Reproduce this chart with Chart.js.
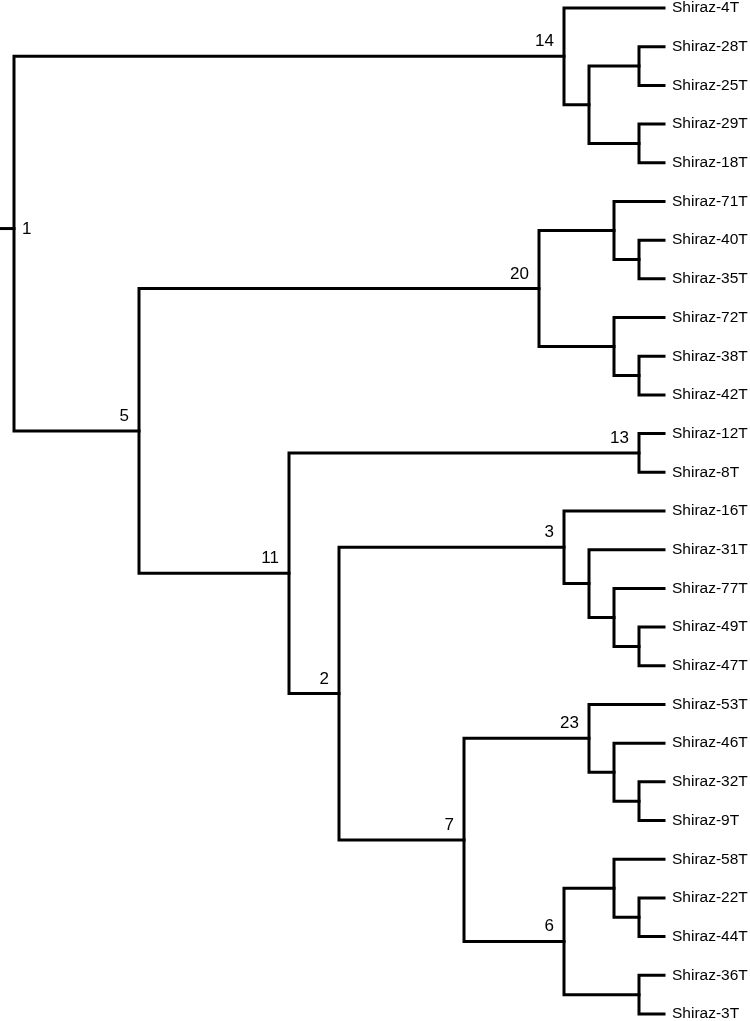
<!DOCTYPE html>
<html>
<head>
<meta charset="utf-8">
<script src="https://cdn.jsdelivr.net/npm/chart.js@4.4.0/dist/chart.umd.min.js"></script>
<style>
  html, body { margin: 0; padding: 0; background: #fff; }
  #wrap { width: 750px; height: 1021px; position: relative; }
</style>
</head>
<body>
<div id="wrap"><canvas id="tree"></canvas></div>
<script>
// leaves, top to bottom
var leafNames = ['Shiraz-4T', 'Shiraz-28T', 'Shiraz-25T', 'Shiraz-29T', 'Shiraz-18T',
  'Shiraz-71T', 'Shiraz-40T', 'Shiraz-35T', 'Shiraz-72T', 'Shiraz-38T', 'Shiraz-42T',
  'Shiraz-12T', 'Shiraz-8T', 'Shiraz-16T', 'Shiraz-31T', 'Shiraz-77T', 'Shiraz-49T',
  'Shiraz-47T', 'Shiraz-53T', 'Shiraz-46T', 'Shiraz-32T', 'Shiraz-9T', 'Shiraz-58T',
  'Shiraz-22T', 'Shiraz-44T', 'Shiraz-36T', 'Shiraz-3T'];
var leafHeight = 26;

// internal nodes
var nodeNames = ['n1', 'n5', 'n14', 'n14a', 'n14b', 'n14c', 'n20', 'n20a', 'n20b', 'n20c', 'n20d',
  'n11', 'n13', 'n2', 'n3', 'n3a', 'n3b', 'n3c', 'n7', 'n23', 'n23a', 'n23b', 'n6', 'n6a', 'n6b', 'n6c'];
var nodeLabels = ['1', '5', '14', '', '', '', '20', '', '', '', '',
  '11', '13', '2', '3', '', '', '', '7', '23', '', '', '6', '', '', ''];
var nodeHeights = [0, 5, 22, 23, 25, 25, 21, 24, 25, 24, 25,
  11, 25, 13, 22, 23, 24, 25, 18, 23, 24, 25, 22, 24, 25, 25];
var nodeChildren = [
  ['n14', 'n5'], ['n20', 'n11'], ['Shiraz-4T', 'n14a'], ['n14b', 'n14c'],
  ['Shiraz-28T', 'Shiraz-25T'], ['Shiraz-29T', 'Shiraz-18T'],
  ['n20a', 'n20c'], ['Shiraz-71T', 'n20b'], ['Shiraz-40T', 'Shiraz-35T'],
  ['Shiraz-72T', 'n20d'], ['Shiraz-38T', 'Shiraz-42T'],
  ['n13', 'n2'], ['Shiraz-12T', 'Shiraz-8T'], ['n3', 'n7'],
  ['Shiraz-16T', 'n3a'], ['Shiraz-31T', 'n3b'], ['Shiraz-77T', 'n3c'], ['Shiraz-49T', 'Shiraz-47T'],
  ['n23', 'n6'], ['Shiraz-53T', 'n23a'], ['Shiraz-46T', 'n23b'], ['Shiraz-32T', 'Shiraz-9T'],
  ['n6a', 'n6c'], ['Shiraz-58T', 'n6b'], ['Shiraz-22T', 'Shiraz-44T'], ['Shiraz-36T', 'Shiraz-3T']
];
var rootStubY = 5.7;   // root stub sits a little above the midpoint
var rootStubStart = -0.56;

// position lookup
var pos = {};
leafNames.forEach(function (n, i) { pos[n] = {x: leafHeight, y: i}; });
function place(name) {
  if (pos[name]) return pos[name];
  var k = nodeNames.indexOf(name);
  var a = place(nodeChildren[k][0]), b = place(nodeChildren[k][1]);
  pos[name] = {x: nodeHeights[k], y: (a.y + b.y) / 2};
  return pos[name];
}
nodeNames.forEach(place);
pos['n1'].y = rootStubY;

var datasets = nodeNames.map(function (name, k) {
  var p = pos[name];
  var a = pos[nodeChildren[k][0]], b = pos[nodeChildren[k][1]];
  return {
    data: [{x: a.x, y: a.y}, {x: p.x, y: a.y}, {x: p.x, y: b.y}, {x: b.x, y: b.y}]
  };
});
datasets.push({data: [{x: rootStubStart, y: rootStubY}, {x: 0, y: rootStubY}]});
datasets.forEach(function (d) {
  d.showLine = true;
  d.borderColor = '#000';
  d.borderWidth = 3;
  d.pointRadius = 0;
  d.tension = 0;
  d.borderJoinStyle = 'miter';
  d.borderCapStyle = 'square';
  d.clip = 4;
});

var nodeLabelPlugin = {
  id: 'nodeLabels',
  afterDatasetsDraw: function (chart) {
    var ctx = chart.ctx, xs = chart.scales.x, ys = chart.scales.y;
    ctx.save();
    ctx.fillStyle = '#000';
    ctx.font = '17px Arial, "Liberation Sans", sans-serif';
    nodeNames.forEach(function (name, k) {
      if (!nodeLabels[k]) return;
      var px = xs.getPixelForValue(pos[name].x);
      var py = ys.getPixelForValue(pos[name].y);
      if (name === 'n1') {
        ctx.textAlign = 'left';
        ctx.textBaseline = 'middle';
        ctx.fillText(nodeLabels[k], px + 8, py + 1);
      } else {
        ctx.textAlign = 'right';
        ctx.textBaseline = 'alphabetic';
        ctx.fillText(nodeLabels[k], px - 10, py - 10);
      }
    });
    ctx.restore();
  }
};

new Chart('tree', {
  type: 'scatter',
  data: {datasets: datasets},
  options: {
    responsive: true,
    maintainAspectRatio: false,
    animation: false,
    layout: {padding: 0},
    plugins: {legend: {display: false}, tooltip: {enabled: false}},
    scales: {
      x: {
        type: 'linear', display: false,
        min: rootStubStart, max: leafHeight
      },
      y: {
        type: 'linear', position: 'right', reverse: true,
        min: -0.207, max: 26.181,
        grid: {display: false, drawTicks: false},
        border: {display: false},
        afterBuildTicks: function (axis) {
          axis.ticks = leafNames.map(function (n, i) { return {value: i}; });
        },
        afterFit: function (axis) {
          axis.width = 86;
          axis.paddingTop = 0;
          axis.paddingBottom = 0;
        },
        ticks: {
          autoSkip: false,
          padding: 8,
          color: '#000',
          font: {family: 'Arial, "Liberation Sans", sans-serif', size: 15.5},
          callback: function (v) { return leafNames[v]; }
        }
      }
    }
  },
  plugins: [nodeLabelPlugin]
});
</script>
</body>
</html>
